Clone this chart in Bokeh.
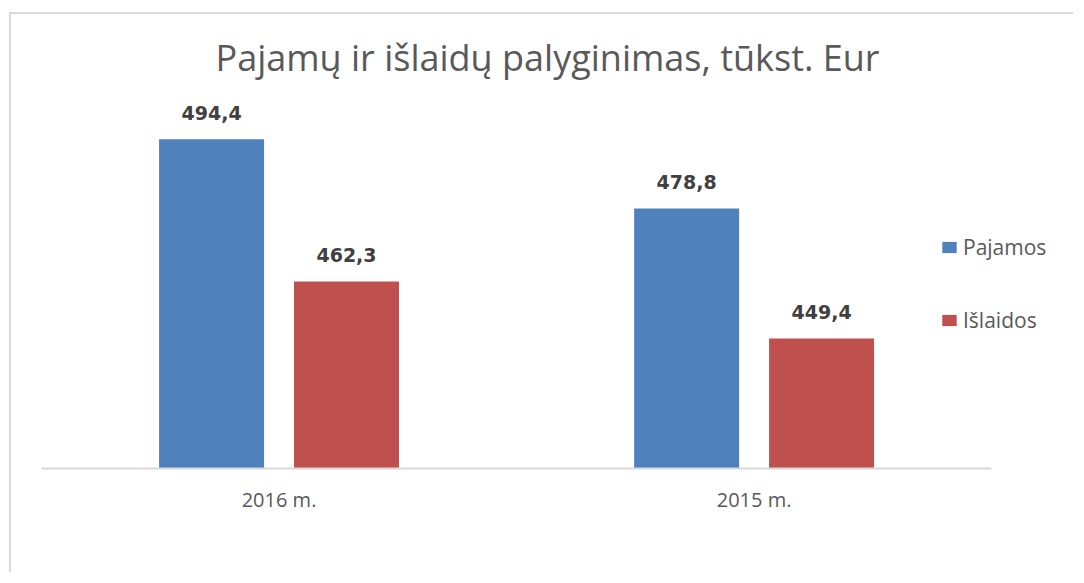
from bokeh.plotting import figure
from bokeh.models import (ColumnDataSource, Range1d, LabelSet, Legend, LegendItem, Title,
                          FixedTicker)
from bokeh.core.properties import value
from bokeh.embed import file_html
from bokeh.resources import INLINE

years = ["2016 m.", "2015 m."]
pajamos = [494.4, 478.8]
islaidos = [462.3, 449.4]
series_names = ["Pajamos", "Išlaidos"]
colors = ["#4F81BD", "#C0504D"]

def fmt(v):
    return f"{v:.1f}".replace(".", ",")

centers = [i + 0.5 for i in range(len(years))]
off = 0.142
w = 0.221

src = ColumnDataSource(dict(
    x_paj=[c - off for c in centers],
    x_isl=[c + off for c in centers],
    pajamos=pajamos,
    islaidos=islaidos,
    pajamos_lbl=[fmt(v) for v in pajamos],
    islaidos_lbl=[fmt(v) for v in islaidos],
))

p = figure(
    x_range=Range1d(0, 2.166),
    y_range=Range1d(420, 505.9),
    width=1064, height=560,
    output_backend="svg", toolbar_location=None,
    min_border_left=30, min_border_right=5, min_border_top=74, min_border_bottom=106,
)
p.styles = {"border-top": "2px solid #d9d9d9", "border-left": "2px solid #d9d9d9",
            "border-right": "none", "border-bottom": "none",
            "margin-top": "12px", "margin-left": "9px"}

t = Title(text="Pajamų ir išlaidų palyginimas, tūkst. Eur", align="left",
          text_font="Open Sans", text_font_size="36px", text_font_style="normal",
          text_color="#595959", offset=174, standoff=13)
p.add_layout(t, "above")

r1 = p.vbar(x="x_paj", top="pajamos", bottom=420, width=w,
            source=src, fill_color=colors[0], line_color=None)
r2 = p.vbar(x="x_isl", top="islaidos", bottom=420, width=w,
            source=src, fill_color=colors[1], line_color=None)

for xcol, col, lbl in [("x_paj", "pajamos", "pajamos_lbl"), ("x_isl", "islaidos", "islaidos_lbl")]:
    ls = LabelSet(x=xcol, y=col, text=lbl, source=src,
                  text_align="center", text_baseline="alphabetic", y_offset=19,
                  text_font=value("DejaVu Sans"), text_font_size=value("19px"),
                  text_font_style="bold", text_color="#404040")
    p.add_layout(ls)

legend = Legend(items=[LegendItem(label=series_names[0], renderers=[r1]),
                       LegendItem(label=series_names[1], renderers=[r2])],
                location=(899, 134), orientation="vertical",
                glyph_width=18, glyph_height=14, label_height=20, spacing=45,
                padding=4, margin=0,
                label_text_font="Open Sans", label_text_font_size="21px",
                label_text_color="#595959",
                label_standoff=5, border_line_color=None, background_fill_alpha=0)
p.add_layout(legend, "center")

p.yaxis.visible = False
p.xaxis.bounds = (0, 2)
p.xaxis.ticker = FixedTicker(ticks=centers)
p.xaxis.major_label_overrides = {c: y for c, y in zip(centers, years)}
p.xaxis.axis_line_color = "#d9d9d9"
p.xaxis.axis_line_width = 2
p.xaxis.major_tick_line_color = None
p.xaxis.minor_tick_line_color = None
p.xaxis.major_label_standoff = 11
p.xaxis.major_label_text_font = "Open Sans"
p.xaxis.major_label_text_font_size = "20px"
p.xaxis.major_label_text_color = "#595959"
p.xgrid.grid_line_color = None
p.ygrid.grid_line_color = None
p.outline_line_color = None

open("out.html", "w").write(file_html(p, INLINE))
